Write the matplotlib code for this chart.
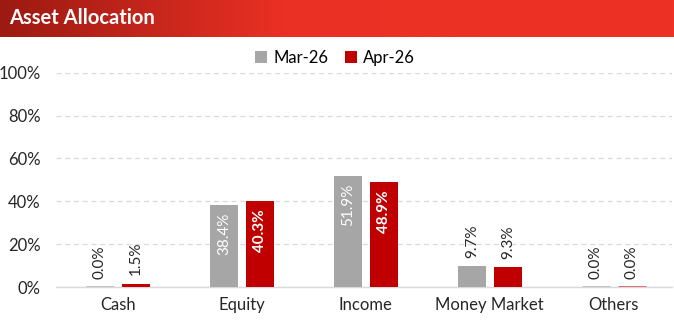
import numpy as np
import matplotlib.pyplot as plt
from matplotlib.colors import LinearSegmentedColormap

categories = ["Cash", "Equity", "Income", "Money Market", "Others"]
mar_26 = [0.0, 38.4, 51.9, 9.7, 0.0]
apr_26 = [1.5, 40.3, 48.9, 9.3, 0.0]
series_names = ["Mar-26", "Apr-26"]
y_ticks = [0, 20, 40, 60, 80, 100]

grey = "#a6a6a6"
red = "#c00000"
font = "Lato"
plt.rcParams["font.family"] = [font, "DejaVu Sans"]

fig = plt.figure(figsize=(6.74, 3.24), dpi=100)

# header band with left-to-right gradient
hdr = fig.add_axes([0, 1 - 37 / 324, 1, 37 / 324])
cmap = LinearSegmentedColormap.from_list("hdr", [(0, "#9c1a12"), (0.42, "#ea3024"), (1, "#ee3124")])
hdr.imshow(np.linspace(0, 1, 512)[None, :], aspect="auto", cmap=cmap, extent=[0, 1, 0, 1])
hdr.set_xlim(0, 1)
hdr.set_ylim(0, 1)
hdr.axis("off")
hdr.text(0.014, 0.52, "Asset Allocation", color="white", fontsize=14.5, fontweight="bold",
         va="center", ha="left")

ax = fig.add_axes([56 / 674, 1 - 287 / 324, 616 / 674, (287 - 72.7) / 324])
x = np.arange(len(categories))
w = 0.225
off = 0.145
b1 = ax.bar(x - off, mar_26, w, color=grey, label=series_names[0], zorder=3)
b2 = ax.bar(x + off, apr_26, w, color=red, label=series_names[1], zorder=3)

zero_cols = {grey: "#bfbfbf", red: "#e06060"}
for bars, vals, col, wt in [(b1, mar_26, grey, "normal"), (b2, apr_26, red, "bold")]:
    for b, v in zip(bars, vals):
        cx = b.get_x() + b.get_width() / 2
        if v == 0:
            # zero bars still show as a thin line on the baseline
            ax.hlines(v, b.get_x(), b.get_x() + b.get_width(), color=zero_cols[col], lw=2, zorder=4)
        if v > 20:
            ax.annotate(f"{v:.1f}%", (cx, v), xytext=(0, -6), textcoords="offset points",
                        rotation=90, ha="center", va="top", color="white", fontsize=11,
                        fontweight=wt)
        else:
            ax.annotate(f"{v:.1f}%", (cx, v), xytext=(0, 6), textcoords="offset points",
                        rotation=90, ha="center", va="bottom", color="#262626", fontsize=11)

ax.set_xlim(-0.5, 4.47)
ax.set_ylim(0, 100)
ax.set_yticks(y_ticks)
ax.set_yticklabels([f"{t}%" for t in y_ticks])
ax.set_xticks(x)
ax.set_xticklabels(categories)
ax.tick_params(axis="both", length=0, labelsize=12, colors="#262626")
ax.tick_params(axis="x", pad=7)
ax.tick_params(axis="y", pad=11)
ax.yaxis.grid(True, color="#d9d9d9", linestyle=(0, (4, 3)), linewidth=0.9, zorder=0)
for s in ["top", "right", "left"]:
    ax.spines[s].set_visible(False)
ax.spines["bottom"].set_color("#d9d9d9")
ax.spines["bottom"].set_linewidth(1)

fig.legend(handles=[b1, b2], loc="center", bbox_to_anchor=(0.497, 1 - 58 / 324), ncol=2,
           frameon=False, fontsize=12, handlelength=0.75, handleheight=0.75,
           handletextpad=0.35, columnspacing=1.0)

fig.savefig("out.png", dpi=100)
